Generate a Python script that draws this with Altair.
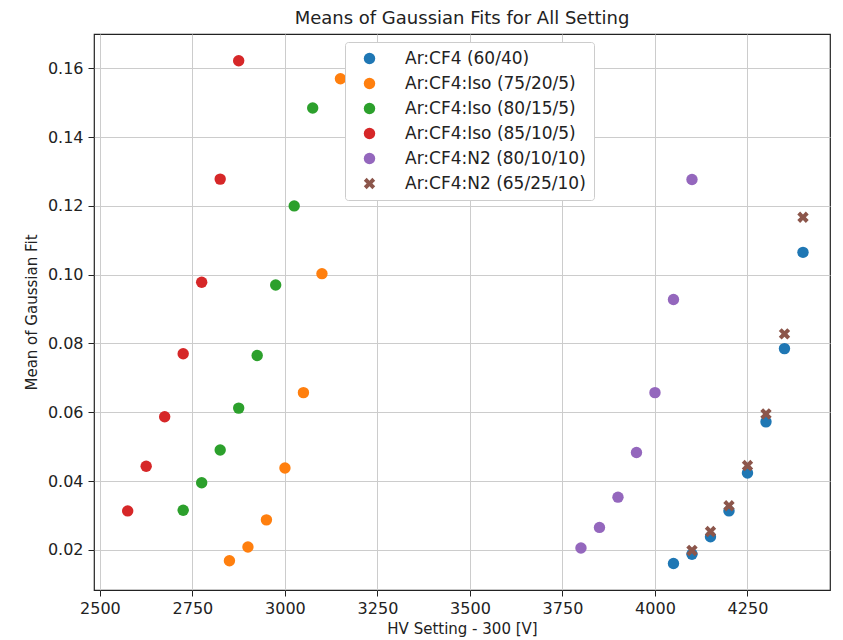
import altair as alt
import pandas as pd

series_names = [
    "Ar:CF4 (60/40)",
    "Ar:CF4:Iso (75/20/5)",
    "Ar:CF4:Iso (80/15/5)",
    "Ar:CF4:Iso (85/10/5)",
    "Ar:CF4:N2 (80/10/10)",
    "Ar:CF4:N2 (65/25/10)",
]
colors = ["#1f77b4", "#ff7f0e", "#2ca02c", "#d62728", "#9467bd", "#8c564b"]

cf4_60_x = [4050, 4100, 4150, 4200, 4250, 4300, 4350, 4400]
cf4_60_y = [0.0160, 0.0187, 0.0238, 0.0313, 0.0423, 0.0572, 0.0785, 0.1065]

iso_75_x = [2850, 2900, 2950, 3000, 3050, 3100, 3150]
iso_75_y = [0.0168, 0.0208, 0.0287, 0.0438, 0.0657, 0.1003, 0.1570]

iso_80_x = [2725, 2775, 2825, 2875, 2925, 2975, 3025, 3075]
iso_80_y = [0.0315, 0.0395, 0.0490, 0.0612, 0.0765, 0.0970, 0.1200, 0.1485]

iso_85_x = [2575, 2625, 2675, 2725, 2775, 2825, 2875]
iso_85_y = [0.0313, 0.0443, 0.0587, 0.0770, 0.0978, 0.1278, 0.1622]

n2_80_x = [3800, 3850, 3900, 3950, 4000, 4050, 4100]
n2_80_y = [0.0205, 0.0265, 0.0353, 0.0483, 0.0657, 0.0928, 0.1277]

n2_65_x = [4100, 4150, 4200, 4250, 4300, 4350, 4400]
n2_65_y = [0.0198, 0.0253, 0.0328, 0.0445, 0.0595, 0.0828, 0.1167]

x_ticks = [2500, 2750, 3000, 3250, 3500, 3750, 4000, 4250]
y_ticks = [0.02, 0.04, 0.06, 0.08, 0.10, 0.12, 0.14, 0.16]

all_x = [cf4_60_x, iso_75_x, iso_80_x, iso_85_x, n2_80_x, n2_65_x]
all_y = [cf4_60_y, iso_75_y, iso_80_y, iso_85_y, n2_80_y, n2_65_y]

rows = []
for i, (name, xs, ys) in enumerate(zip(series_names, all_x, all_y)):
    for xv, yv in zip(xs, ys):
        rows.append({"series": name, "hv": xv, "mean": yv, "order": i})
df = pd.DataFrame(rows)

x_path = ("M-0.5,-1L0,-0.5L0.5,-1L1,-0.5L0.5,0L1,0.5L0.5,1L0,0.5"
          "L-0.5,1L-1,0.5L-0.5,0L-1,-0.5Z")
shapes = ["circle"] * 5 + [x_path]

font = "DejaVu Sans"

chart = (
    alt.Chart(df)
    .mark_point(filled=True, size=130, opacity=1, strokeWidth=0)
    .encode(
        x=alt.X(
            "hv:Q",
            title="HV Setting - 300 [V]",
            scale=alt.Scale(domain=[2484, 4473], nice=False, zero=False),
            axis=alt.Axis(values=x_ticks, format="d"),
        ),
        y=alt.Y(
            "mean:Q",
            title="Mean of Gaussian Fit",
            scale=alt.Scale(domain=[0.0083, 0.17], nice=False, zero=False),
            axis=alt.Axis(values=y_ticks, format=".2f"),
        ),
        color=alt.Color(
            "series:N",
            scale=alt.Scale(domain=series_names, range=colors),
            legend=alt.Legend(title=None),
        ),
        shape=alt.Shape(
            "series:N",
            scale=alt.Scale(domain=series_names, range=shapes),
            legend=alt.Legend(title=None),
        ),
        order=alt.Order("order:Q"),
    )
    .properties(
        width=736,
        height=556,
        title=alt.TitleParams(
            "Means of Gaussian Fits for All Setting",
            fontSize=18,
            fontWeight="normal",
            font=font,
            color="#222222",
            offset=6,
        ),
        autosize=alt.AutoSizeParams(type="none"),
        padding={"left": 86, "top": 26, "right": 5, "bottom": 48},
    )
    .configure_view(stroke="#222222", strokeWidth=1.2)
    .configure_axis(
        grid=True,
        gridColor="#cccccc",
        gridWidth=1,
        domain=False,
        tickColor="#222222",
        tickSize=6,
        labelFont=font,
        labelFontSize=16,
        labelColor="#222222",
        titleFont=font,
        titleFontSize=15,
        titleFontWeight="normal",
        titleColor="#222222",
    )
    .configure_axisX(labelPadding=4, titlePadding=5)
    .configure_axisY(labelPadding=5, titlePadding=8)
    .configure_legend(
        orient="none",
        legendX=251,
        legendY=8,
        labelFont=font,
        labelFontSize=17,
        labelColor="#222222",
        symbolSize=130,
        rowPadding=7,
        symbolOffset=8,
        labelOffset=27,
        padding=8,
        strokeColor="#cccccc",
        fillColor="white",
        cornerRadius=3,
        labelLimit=400,
    )
)

chart.save("out.html", embed_options={"renderer": "svg", "actions": False})
